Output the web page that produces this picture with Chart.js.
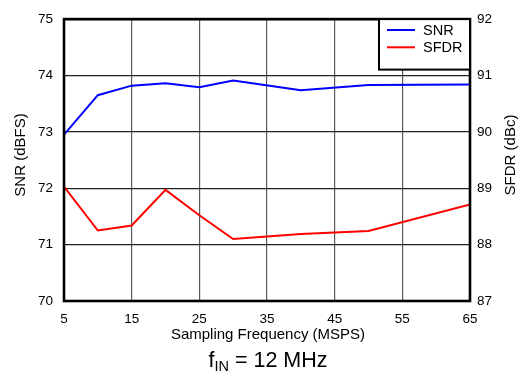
<!DOCTYPE html>
<html>
<head>
<meta charset="utf-8">
<script src="https://cdn.jsdelivr.net/npm/chart.js@4"></script>
<style>
  body { margin: 0; background: #fff; }
  #wrap { width: 523px; height: 375px; }
</style>
</head>
<body>
<div id="wrap"><canvas id="chart" width="523" height="375"></canvas></div>
<script>
var freq = [5, 10, 15, 20, 25, 30, 40, 50, 65];
var snr = [72.95, 73.65, 73.82, 73.86, 73.79, 73.91, 73.74, 73.83, 73.84];
var sfdr = [89.03, 88.25, 88.34, 88.97, 88.52, 88.10, 88.19, 88.24, 88.71];
var seriesNames = ["SNR", "SFDR"];
var seriesColors = ["#0000ff", "#ff0000"];

var font = "Liberation Sans, Arial, sans-serif";

var toPoints = function (ys) {
  return freq.map(function (f, i) { return { x: f, y: ys[i] }; });
};

// frame, legend box and titles
var decor = {
  id: "decor",
  afterDraw: function (chart) {
    var ctx = chart.ctx;
    var a = chart.chartArea;
    ctx.save();
    ctx.strokeStyle = "#000";
    ctx.lineWidth = 2.6;
    ctx.strokeRect(a.left, a.top, a.right - a.left, a.bottom - a.top);

    // legend
    var lx = 379, ly = a.top, lw = a.right - lx, lh = 50.5;
    ctx.fillStyle = "#fff";
    ctx.fillRect(lx, ly, lw, lh);
    ctx.lineWidth = 2;
    ctx.strokeRect(lx, ly, lw, lh);
    ctx.font = "14.5px " + font;
    ctx.textBaseline = "middle";
    ctx.textAlign = "left";
    chart.data.datasets.forEach(function (ds, i) {
      var y = 30 + i * 17.3;
      ctx.strokeStyle = ds.borderColor;
      ctx.lineWidth = 2;
      ctx.beginPath();
      ctx.moveTo(387, y);
      ctx.lineTo(415, y);
      ctx.stroke();
      ctx.fillStyle = "#000";
      ctx.fillText(ds.label, 423, y + 0.5);
    });

    // axis titles
    var midY = 155;
    ctx.fillStyle = "#000";
    ctx.textAlign = "center";
    ctx.font = "15px " + font;
    ctx.save();
    ctx.translate(21, midY);
    ctx.rotate(-Math.PI / 2);
    ctx.fillText("SNR (dBFS)", 0, 0);
    ctx.restore();
    ctx.save();
    ctx.translate(511, midY);
    ctx.rotate(-Math.PI / 2);
    ctx.fillText("SFDR (dBc)", 0, 0);
    ctx.restore();
    ctx.textBaseline = "alphabetic";
    ctx.fillText("Sampling Frequency (MSPS)", (a.left + a.right) / 2 + 1, 339);

    // f_IN caption with subscript
    ctx.textAlign = "left";
    var big = "21.5px " + font, small = "14.5px " + font;
    ctx.font = big;
    var w1 = ctx.measureText("f").width;
    var w3 = ctx.measureText(" = 12 MHz").width;
    ctx.font = small;
    var w2 = ctx.measureText("IN").width;
    var x0 = 268 - (w1 + w2 + w3) / 2;
    ctx.font = big;
    ctx.fillText("f", x0, 367);
    ctx.font = small;
    ctx.fillText("IN", x0 + w1, 371);
    ctx.font = big;
    ctx.fillText(" = 12 MHz", x0 + w1 + w2, 367);
    ctx.restore();
  }
};

var tickFont = { family: font, size: 13.5 };

new Chart(document.getElementById("chart").getContext("2d"), {
  type: "line",
  data: {
    datasets: [
      {
        label: seriesNames[0],
        data: toPoints(snr),
        yAxisID: "y",
        borderColor: seriesColors[0],
        borderWidth: 2,
        pointRadius: 0,
        tension: 0,
        fill: false
      },
      {
        label: seriesNames[1],
        data: toPoints(sfdr),
        yAxisID: "y1",
        borderColor: seriesColors[1],
        borderWidth: 2,
        pointRadius: 0,
        tension: 0,
        fill: false
      }
    ]
  },
  options: {
    responsive: false,
    animation: false,
    layout: { padding: { top: 13, left: 0, right: 0, bottom: 0 } },
    plugins: { legend: { display: false }, tooltip: { enabled: false } },
    scales: {
      x: {
        type: "linear",
        min: 5,
        max: 65,
        afterFit: function (s) { s.height = 74; },
        grid: { color: "#5a5a5a", lineWidth: 1.2, drawTicks: false },
        border: { display: false },
        ticks: { stepSize: 10, color: "#000", font: tickFont, padding: 10, maxRotation: 0 }
      },
      y: {
        position: "left",
        min: 70,
        max: 75,
        afterFit: function (s) { s.width = 64; },
        grid: { color: "#222", lineWidth: 1.2, drawTicks: false },
        border: { display: false },
        ticks: { stepSize: 1, color: "#000", font: tickFont, padding: 11 }
      },
      y1: {
        position: "right",
        min: 87,
        max: 92,
        afterFit: function (s) { s.width = 53; },
        grid: { display: false, drawTicks: false },
        border: { display: false },
        ticks: { stepSize: 1, color: "#000", font: tickFont, padding: 7 }
      }
    }
  },
  plugins: [decor]
});
</script>
</body>
</html>
